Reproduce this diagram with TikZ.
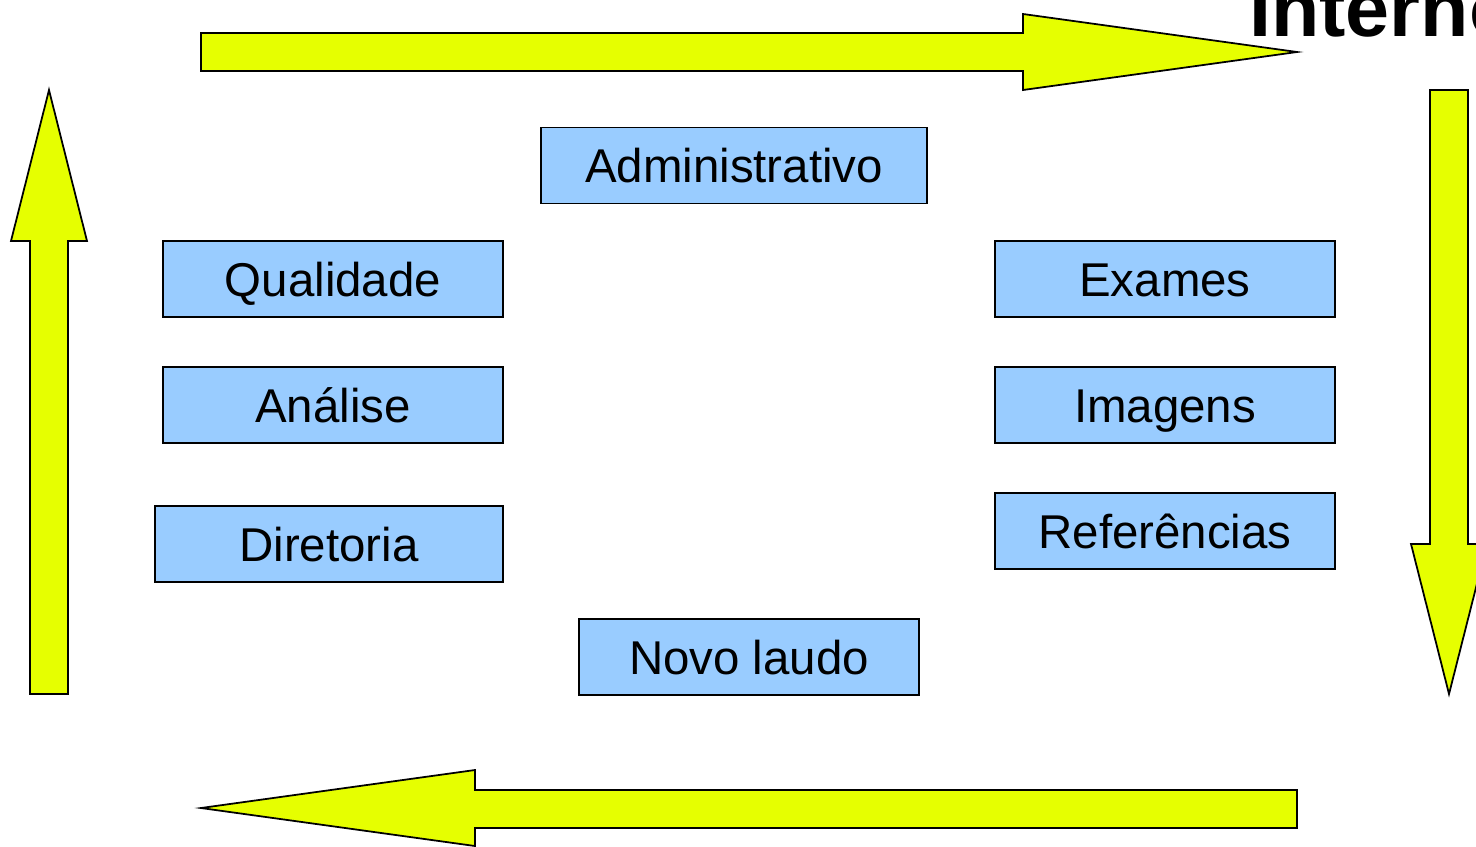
\documentclass[tikz,border=0pt]{standalone}
\usepackage{fontspec}
\setmainfont{Liberation Sans}
\definecolor{boxblue}{HTML}{99CCFF}
\definecolor{arrowyellow}{HTML}{E6FF00}
\tikzset{
    area/.style={draw=black, line width=0.9pt, fill=boxblue, minimum height=1.52cm,
        inner sep=0pt, text height=19.4pt, text depth=0pt, font=\fontsize{27}{30}\selectfont},
    flow/.style={draw=black, line width=1pt, fill=arrowyellow, line join=miter}
}

\begin{document}
\begin{tikzpicture}[x=0.02cm, y=-0.02cm]
    \useasboundingbox (0,0) rectangle (1476,846);
    \clip (0,0) rectangle (1476,846);
    % flow arrows round the areas
    \draw[flow] (201,33) -- (1023,33) -- (1023,14) -- (1297,52) -- (1023,90) -- (1023,71) -- (201,71) -- cycle;
    \draw[flow] (1430,90) -- (1468,90) -- (1468,544) -- (1487,544) -- (1449,694) -- (1411,544) -- (1430,544) -- cycle;
    \draw[flow] (1297,790) -- (475,790) -- (475,770) -- (201,808) -- (475,846) -- (475,828) -- (1297,828) -- cycle;
    \draw[flow] (30,694) -- (30,241) -- (11,241) -- (49,90) -- (87,241) -- (68,241) -- (68,694) -- cycle;
    \node[anchor=base west, inner sep=0pt, font=\fontsize{45}{50}\selectfont\bfseries] (interno) at (1249,36) {Interno};
    % areas
    \node[area, minimum width=7.72cm] (adm) at (734,165.5) {Administrativo};
    \node[area, minimum width=6.8cm] (qual) at (333,279) {Qualidade};
    \node[area, minimum width=6.8cm] (anal) at (333,405) {Análise};
    \node[area, minimum width=6.96cm] (dir) at (329,544) {Diretoria};
    \node[area, minimum width=6.8cm] (exam) at (1165,279) {Exames};
    \node[area, minimum width=6.8cm] (img) at (1165,405) {Imagens};
    \node[area, minimum width=6.8cm] (ref) at (1165,531) {Referências};
    \node[area, minimum width=6.8cm] (laudo) at (749,657) {Novo laudo};
\end{tikzpicture}
\end{document}
